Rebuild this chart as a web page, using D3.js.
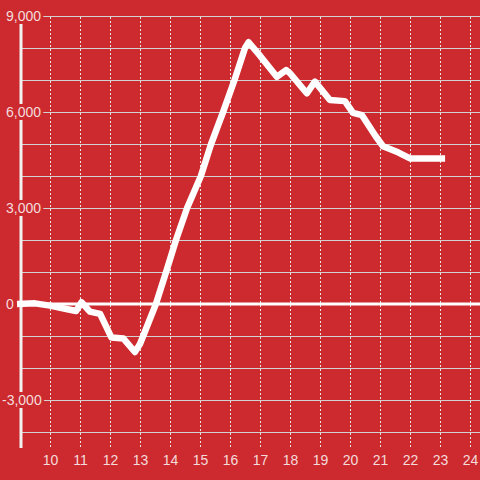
<!DOCTYPE html>
<html>
<head>
<meta charset="utf-8">
<script src="https://cdn.jsdelivr.net/npm/d3@7"></script>
<style>
  html, body { margin: 0; padding: 0; background: #cc2a2f; }
  svg { display: block; }
  .tick text { font-family: "Liberation Sans", Arial, sans-serif; font-size: 14px; fill: #f4dcdc; }
</style>
</head>
<body>
<svg id="chart"></svg>
<script>
// hours of the day and the running value
const hours  = [8.9, 9.5, 10.0, 10.5, 10.87, 11.05, 11.33, 11.67, 12.05, 12.45, 12.83, 13.0, 13.53, 13.87, 14.2, 14.57, 15.03, 15.37, 15.77, 16.15, 16.5, 16.62, 17.0, 17.56, 17.87, 18.0, 18.56, 18.83, 19.33, 19.83, 20.1, 20.4, 20.85, 21.1, 21.6, 22.0, 23.17];
const values = [0, 20, -50, -150, -220, 55, -240, -310, -1050, -1080, -1500, -1250, 0, 1000, 2000, 3000, 4000, 5000, 6000, 7000, 8000, 8180, 7760, 7100, 7310, 7210, 6585, 6950, 6375, 6340, 5970, 5900, 5250, 4930, 4740, 4550, 4550];

const xTicks = [10, 11, 12, 13, 14, 15, 16, 17, 18, 19, 20, 21, 22, 23, 24];
const yGridTicks = [9000, 8000, 7000, 6000, 5000, 4000, 3000, 2000, 1000, -1000, -2000, -3000, -4000];
const yLabelTicks = [9000, 6000, 3000, 0, -3000];

class LineChart {

    constructor(_config, _data) {
        this.config = {
            parentElement: _config.parentElement,
            containerWidth: 480,
            containerHeight: 480,
            axisX: 21,
            labelX: 6,
            bottom: 448
        };
        this.data = _data;
        this.initVis();
    }

    initVis() {
        let vis = this;

        vis.svg = d3.select(vis.config.parentElement)
            .attr('width', vis.config.containerWidth)
            .attr('height', vis.config.containerHeight);

        vis.svg.append('rect')
            .attr('width', vis.config.containerWidth)
            .attr('height', vis.config.containerHeight)
            .attr('fill', '#cc2a2f');

        // scales
        vis.xScale = d3.scaleLinear().domain([9, 24]).range([20, 470]);
        vis.yScale = d3.scaleLinear().domain([-4000, 9000]).range([432, 16]);

        vis.renderVis();
    }

    renderVis() {
        let vis = this;
        const x = vis.xScale, y = vis.yScale;

        // horizontal grid
        vis.svg.append('g').selectAll('line')
            .data(yGridTicks.concat(yLabelTicks.filter(d => d !== 0)))
            .join('line')
            .attr('x1', vis.config.axisX)
            .attr('x2', vis.config.containerWidth)
            .attr('y1', d => Math.round(y(d)) + 0.5)
            .attr('y2', d => Math.round(y(d)) + 0.5)
            .attr('stroke', '#d2d2d2')
            .attr('stroke-width', 1);

        // vertical dotted grid
        vis.svg.append('g').selectAll('line')
            .data(xTicks)
            .join('line')
            .attr('x1', d => Math.round(x(d)) + 0.5)
            .attr('x2', d => Math.round(x(d)) + 0.5)
            .attr('y1', 17)
            .attr('y2', vis.config.bottom)
            .attr('stroke', '#e6e6e6')
            .attr('stroke-width', 1)
            .attr('stroke-dasharray', '2,2');

        // zero line
        vis.svg.append('line')
            .attr('x1', vis.config.axisX)
            .attr('x2', vis.config.containerWidth)
            .attr('y1', y(0))
            .attr('y2', y(0))
            .attr('stroke', '#ffffff')
            .attr('stroke-width', 3);

        // y axis line
        vis.svg.append('line')
            .attr('x1', vis.config.axisX)
            .attr('x2', vis.config.axisX)
            .attr('y1', 16)
            .attr('y2', vis.config.bottom)
            .attr('stroke', '#f2f2f2')
            .attr('stroke-width', 3);

        // y labels, left aligned with the minus sign hanging, on a red backing
        vis.yAxis = d3.axisRight(y).tickValues(yLabelTicks).tickSize(0).tickPadding(0)
            .tickFormat(d3.format(','));
        vis.yAxisGroup = vis.svg.append('g')
            .attr('transform', `translate(${vis.config.labelX},0)`)
            .call(vis.yAxis);
        vis.yAxisGroup.select('.domain').remove();
        vis.yAxisGroup.selectAll('.tick text')
            .attr('x', d => d < 0 ? -4 : 0)
            .text(d => d < 0 ? '-' + d3.format(',')(-d) : d3.format(',')(d));
        vis.yAxisGroup.selectAll('.tick').each(function() {
            const t = d3.select(this);
            const bb = t.select('text').node().getBBox();
            t.insert('rect', 'text')
                .attr('x', bb.x - 1)
                .attr('y', bb.y)
                .attr('width', bb.width + 3)
                .attr('height', bb.height)
                .attr('fill', '#cc2a2f');
        });

        // x labels
        vis.xAxis = d3.axisBottom(x).tickValues(xTicks).tickSize(0).tickPadding(7);
        vis.xAxisGroup = vis.svg.append('g')
            .attr('transform', `translate(0,${vis.config.bottom})`)
            .call(vis.xAxis);
        vis.xAxisGroup.select('.domain').remove();

        // data line
        const line = d3.line()
            .x(d => x(d))
            .y((d, i) => y(values[i]));

        vis.svg.append('path')
            .datum(vis.data)
            .attr('d', line)
            .attr('fill', 'none')
            .attr('stroke', '#ffffff')
            .attr('stroke-width', 6.5)
            .attr('stroke-linejoin', 'round')
            .attr('stroke-linecap', 'butt');
    }
}

new LineChart({ parentElement: '#chart' }, hours);
</script>
</body>
</html>
